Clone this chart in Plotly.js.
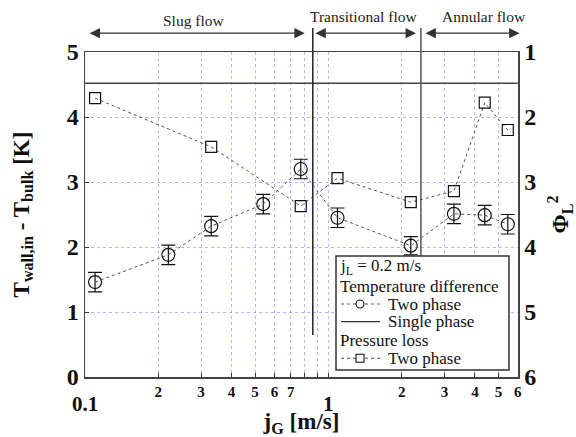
<!DOCTYPE html>
<html>
<head>
<meta charset="utf-8">
<script src="https://cdn.plot.ly/plotly-3.0.1.min.js"></script>
<style>html,body{margin:0;padding:0;background:#fff;}#chart{width:576px;height:437px;}</style>
</head>
<body>
<div id="chart"></div>
<script>
// Data
const jG        = [0.11, 0.22, 0.33, 0.54, 0.77, 1.09, 2.18, 3.28, 4.39, 5.46];
const dT        = [1.46, 1.88, 2.32, 2.66, 3.20, 2.45, 2.02, 2.51, 2.49, 2.35];
const dTerr     = [0.15, 0.15, 0.15, 0.15, 0.15, 0.15, 0.14, 0.15, 0.15, 0.15];
const jGp       = [0.11, 0.33, 0.77, 1.09, 2.18, 3.28, 4.39, 5.46];
const phi2      = [1.71, 2.46, 3.37, 2.94, 3.31, 3.14, 1.78, 2.20];
const singlePhaseX = [0.1, 6];
const singlePhaseY = [4.52, 4.52];
const regimeBounds = [0.863, 2.40];
const regimeNames  = ['Slug flow', 'Transitional flow', 'Annular flow'];
const regimeArrows = [[0.103, 0.80], [0.872, 2.29], [2.47, 6.1]];
const regimeLabelX = [0.281, 1.40, 4.36];
const xTickVals = [0.2,0.3,0.4,0.5,0.6,0.7,0.8,0.9,1,2,3,4,5,6];
const xTickText = ['2','3','4','5','6','7','','','','2','3','4','5','6'];
const xMajorVals = [0.1, 1];
const xMajorText = ['0.1', '1'];
const legendRows = ['j<sub>L</sub> = 0.2 m/s', 'Temperature difference', 'Two phase', 'Single phase', 'Pressure loss', 'Two phase'];

const serif = 'Liberation Serif, Times New Roman, Times, serif';
const ink = '#333';

const traces = [
  {
    x: jG, y: dT, type: 'scatter', mode: 'lines+markers', name: 'Temperature difference, two phase',
    line: {color: '#555', width: 1, dash: 'dot'},
    marker: {symbol: 'circle-open', size: 13, color: '#111', line: {width: 1.2, color: '#111'}},
    error_y: {type: 'data', array: dTerr, visible: true, color: '#111', thickness: 1.2, width: 7},
    xaxis: 'x', yaxis: 'y'
  },
  {
    x: singlePhaseX, y: singlePhaseY, type: 'scatter', mode: 'lines', name: 'Temperature difference, single phase',
    line: {color: '#444', width: 1.5},
    xaxis: 'x', yaxis: 'y'
  },
  {
    x: jGp, y: phi2, type: 'scatter', mode: 'lines+markers', name: 'Pressure loss, two phase',
    line: {color: '#555', width: 1, dash: 'dot'},
    marker: {symbol: 'square-open', size: 11, color: '#111', line: {width: 1.2, color: '#111'}},
    xaxis: 'x', yaxis: 'y2'
  }
];

// pixel helpers for the hand-built legend box (plot area 85..518 x 52..377)
const PX = px => (px - 85) / 433;
const PY = py => (377 - py) / 325;

const annotations = [];
for (let i = 0; i < regimeNames.length; i++) {
  annotations.push({
    xref: 'x', yref: 'paper', x: Math.log10(regimeArrows[i][1]), y: 1.058,
    axref: 'x', ax: Math.log10(regimeArrows[i][0]), ayref: 'pixel', ay: 0,
    text: '', showarrow: true, arrowside: 'end+start', arrowhead: 2, startarrowhead: 2,
    arrowsize: 1.6, startarrowsize: 1.6, arrowwidth: 1.3, arrowcolor: '#333'
  });
  annotations.push({
    xref: 'x', yref: 'paper', x: Math.log10(regimeLabelX[i]), y: i === 0 ? 1.098 : 1.108,
    text: regimeNames[i], showarrow: false, yanchor: 'middle',
    font: {family: serif, size: 15.5, color: '#222'}
  });
}
for (let i = 0; i < xMajorVals.length; i++) {
  annotations.push({
    xref: 'x', yref: 'paper', x: Math.log10(xMajorVals[i]), y: -0.083,
    text: '<b>' + xMajorText[i] + '</b>', showarrow: false, yanchor: 'middle',
    font: {family: serif, size: 21, color: '#111'}
  });
}
const rowY = [266.7, 286.7, 304, 321.7, 340, 358.3];
const rowX = [338, 338, 386, 386, 338, 386];
for (let i = 0; i < legendRows.length; i++) {
  annotations.push({
    xref: 'paper', yref: 'paper', x: PX(rowX[i]), y: PY(rowY[i]),
    xanchor: 'left', yanchor: 'middle', showarrow: false,
    text: legendRows[i], font: {family: serif, size: 17, color: '#111'}
  });
}

const shapes = regimeBounds.map((b, i) => ({
  type: 'line', xref: 'x', yref: 'paper', x0: b, x1: b,
  y0: i === 0 ? 0.129 : 0.372, y1: 1.074,
  line: {color: i === 0 ? '#222' : '#555', width: 1.5}, layer: 'above'
}));
// legend frame and samples
shapes.push({type: 'rect', xref: 'paper', yref: 'paper', x0: PX(336), x1: PX(509), y0: PY(370), y1: PY(256),
  fillcolor: '#fff', line: {color: '#333', width: 1.5}, layer: 'above'});
shapes.push({type: 'line', xref: 'paper', yref: 'paper', x0: PX(341), x1: PX(380), y0: PY(304), y1: PY(304),
  line: {color: '#555', width: 1, dash: 'dot'}, layer: 'above'});
shapes.push({type: 'circle', xref: 'paper', yref: 'paper', x0: PX(356), x1: PX(364), y0: PY(308), y1: PY(300),
  fillcolor: '#fff', line: {color: '#111', width: 1.1}, layer: 'above'});
shapes.push({type: 'line', xref: 'paper', yref: 'paper', x0: PX(341), x1: PX(380), y0: PY(321.7), y1: PY(321.7),
  line: {color: '#333', width: 1.3}, layer: 'above'});
shapes.push({type: 'line', xref: 'paper', yref: 'paper', x0: PX(341), x1: PX(380), y0: PY(358.3), y1: PY(358.3),
  line: {color: '#555', width: 1, dash: 'dot'}, layer: 'above'});
shapes.push({type: 'rect', xref: 'paper', yref: 'paper', x0: PX(356), x1: PX(364), y0: PY(362.3), y1: PY(354.3),
  fillcolor: '#fff', line: {color: '#111', width: 1.1}, layer: 'above'});

const grid = 'rgba(110,110,255,0.5)';
const layout = {
  width: 576, height: 437,
  margin: {l: 85, r: 58, t: 52, b: 60},
  paper_bgcolor: '#fff', plot_bgcolor: '#fff',
  font: {family: serif, color: '#111'},
  showlegend: false,
  xaxis: {
    type: 'log', range: [-1, Math.log10(6) + 0.001],
    tickvals: xTickVals, ticktext: xTickText,
    tickfont: {family: serif, size: 15, weight: 'bold', color: '#111'},
    ticks: 'inside', ticklen: 4, tickcolor: ink,
    showgrid: true, gridcolor: grid, griddash: 'dot', gridwidth: 1,
    showline: true, linecolor: '#444', linewidth: 1.5, mirror: true,
    zeroline: false,
    title: {text: '<b>j<sub>G</sub> [m/s]</b>', font: {family: serif, size: 23, color: '#111'}, standoff: 22}
  },
  yaxis: {
    range: [0, 5], dtick: 1,
    tickfont: {family: serif, size: 24, weight: 'bold', color: '#111'},
    ticks: 'inside', ticklen: 4, tickcolor: ink,
    showgrid: true, gridcolor: grid, griddash: 'dot', gridwidth: 1,
    showline: true, linecolor: '#444', linewidth: 1.5, zeroline: false,
    title: {text: '<b>T<sub>wall,in</sub> - T<sub>bulk</sub> [K]</b>', font: {family: serif, size: 23, color: '#111'}}
  },
  yaxis2: {
    overlaying: 'y', side: 'right', range: [6, 1], dtick: 1,
    tickfont: {family: serif, size: 24, weight: 'bold', color: '#111'},
    showgrid: false, showline: true, linecolor: '#444', linewidth: 1.5, zeroline: false,
    title: {text: '<b>Φ<sub>L</sub><sup>2</sup></b>', font: {family: serif, size: 23, color: '#111'}}
  },
  annotations: annotations,
  shapes: shapes
};

Plotly.newPlot('chart', traces, layout, {staticPlot: true, displayModeBar: false});
</script>
</body>
</html>
